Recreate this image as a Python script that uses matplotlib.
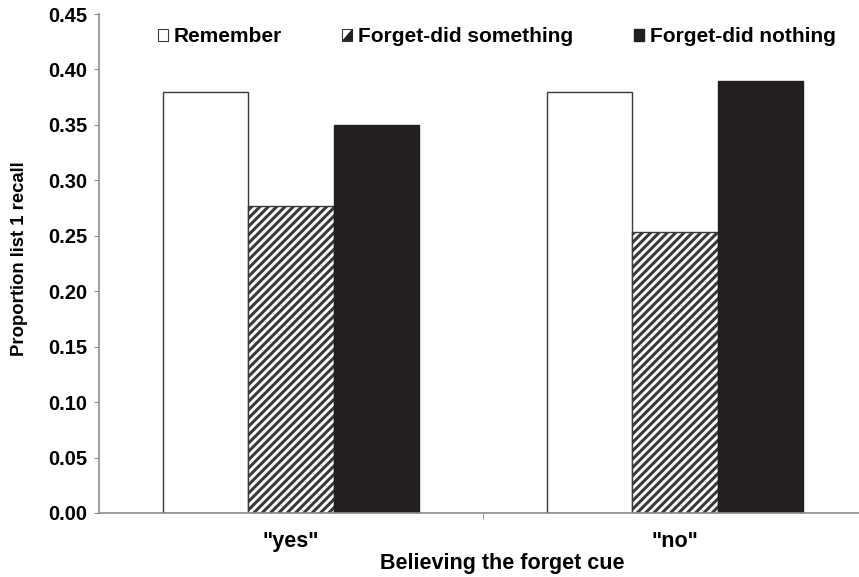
import matplotlib.pyplot as plt
import numpy as np
from matplotlib.legend_handler import HandlerBase
from matplotlib.patches import Rectangle, Polygon

# datos
categorias = ['"yes"', '"no"']
series = ["Remember", "Forget-did something", "Forget-did nothing"]
remember = [0.38, 0.38]
forget_something = [0.277, 0.253]
forget_nothing = [0.35, 0.39]
yticks = np.arange(0, 0.451, 0.05)

plt.rcParams["font.family"] = ["Liberation Sans", "DejaVu Sans"]
plt.rcParams["font.weight"] = "bold"
plt.rcParams["hatch.linewidth"] = 2.2
plt.rcParams["hatch.color"] = "#231f20"

NEGRO = "#231f20"
BORDE = "#3a3a3a"
GRIS = "#8c8c8c"


class MedioCuadro(HandlerBase):
    """Icono de leyenda tipo Excel: cuadro blanco con triangulo negro abajo a la derecha."""
    def create_artists(self, legend, orig, xd, yd, w, h, fontsize, trans):
        x0, y0 = -xd, -yd
        r = Rectangle((x0, y0), w, h, facecolor="white", edgecolor=BORDE, lw=0.8, transform=trans)
        t = Polygon([(x0 + w, y0), (x0 + w, y0 + h), (x0, y0)], closed=True,
                    facecolor=NEGRO, edgecolor=NEGRO, lw=0.5, transform=trans)
        return [r, t]


fig = plt.figure(figsize=(8.59, 5.77), dpi=100)
ax = fig.add_axes([99 / 859, 64 / 577, 768 / 859, 499 / 577])

x = np.arange(len(categorias))
w = 0.2225
ax.bar(x - w, remember, w, color="white", edgecolor=BORDE, linewidth=1.0, label=series[0])
ax.bar(x, forget_something, w, color="white", edgecolor=BORDE, linewidth=1.0,
       hatch="////", label=series[1])
ax.bar(x + w, forget_nothing, w, color=NEGRO, edgecolor=NEGRO, linewidth=1.0, label=series[2])

ax.set_xlim(-0.5, 1.5)
ax.set_ylim(0, 0.45)
ax.set_yticks(yticks)
ax.set_yticklabels([f"{v:.2f}" for v in yticks], fontsize=14.5)
ax.set_xticks(x)
ax.set_xticklabels(categorias, fontsize=15.5)
ax.tick_params(axis="x", length=0, pad=13)
ax.set_xticks([0.5], minor=True)
ax.tick_params(axis="x", which="minor", length=4, color=GRIS)
ax.tick_params(axis="y", length=3.5, color=GRIS, pad=5)

for s in ["top", "right"]:
    ax.spines[s].set_visible(False)
for s in ["left", "bottom"]:
    ax.spines[s].set_color(GRIS)
    ax.spines[s].set_linewidth(1.2)

ax.set_xlabel("Believing the forget cue", fontsize=15.5, fontweight="bold", va="top")
ax.xaxis.set_label_coords(0.525, -0.080)
ax.set_ylabel("Proportion list 1 recall", fontsize=13.3, fontweight="bold")
ax.yaxis.set_label_coords(-0.092, 0.51)

h1 = Rectangle((0, 0), 1, 1, facecolor="white", edgecolor=BORDE, lw=0.8)
h2 = Rectangle((0, 0), 1, 1)
h3 = Rectangle((0, 0), 1, 1, facecolor=NEGRO, edgecolor=NEGRO)
ax.legend([h1, h2, h3], series, handler_map={h2: MedioCuadro()},
          loc="center", bbox_to_anchor=(0.518, 0.954), ncol=3, frameon=False,
          fontsize=15, handlelength=0.48, handleheight=0.48, handletextpad=0.29,
          columnspacing=2.9, borderpad=0, borderaxespad=0)

fig.savefig("out.png", dpi=100)
